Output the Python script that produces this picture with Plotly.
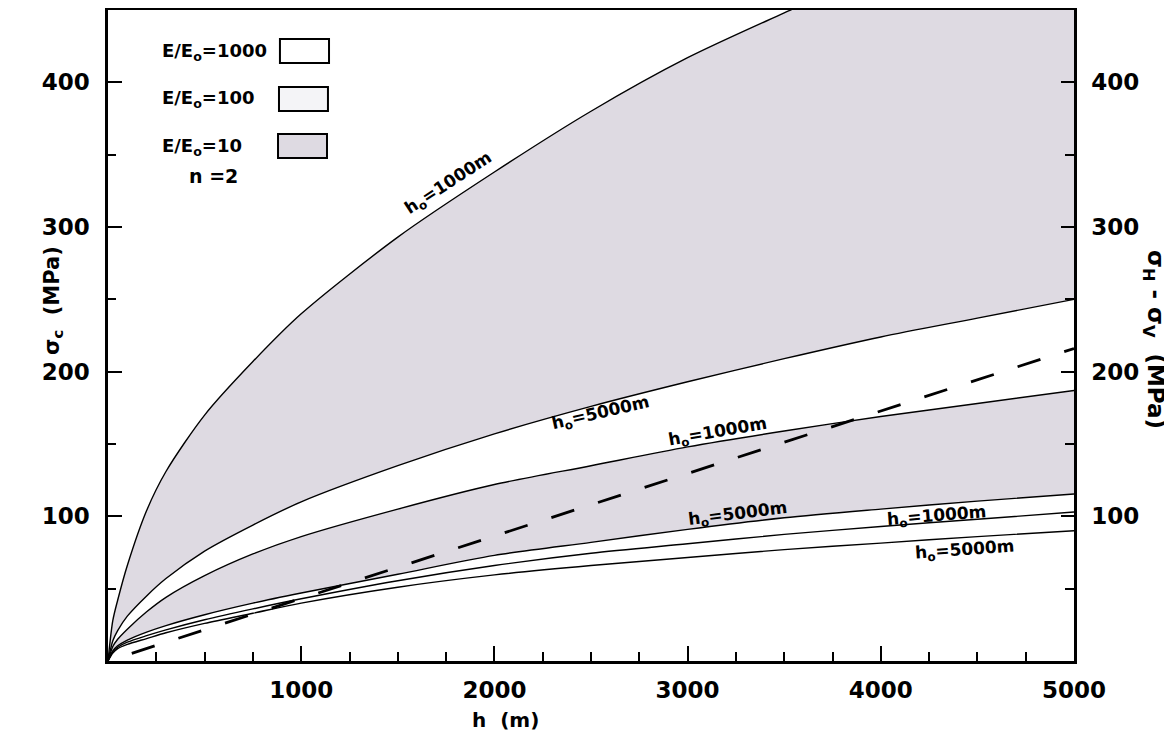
import plotly.graph_objects as go

# depth h (m)
h = [0, 25, 50, 100, 200, 300, 500, 750, 1000, 1500, 2000, 2500, 3000, 3500, 4000, 4500, 5000]

# sigma_c (MPa)
e10_h1000 = [0, 28, 42, 66, 104, 131, 170, 207, 240, 293, 338, 380, 417, 448, 478, 505, 530]
e10_h5000 = [0, 14, 21, 31, 45, 57, 76, 94, 110, 135, 157, 176, 193, 209, 224, 237, 250]
e100_h1000 = [0, 10, 15, 22, 34, 44, 59, 74, 86, 105, 122, 135, 148, 159, 169, 178, 187]
e100_h5000 = [0, 7, 10.5, 14.5, 20, 24.5, 32, 40, 47, 60, 73, 82, 91, 99, 105, 110.5, 115.4]
e1000_h1000 = [0, 6.5, 9.5, 13, 17.5, 21.5, 28.5, 36, 43, 55.5, 66, 74.5, 81, 87.5, 93, 98, 103]
e1000_h5000 = [0, 5.5, 8.5, 11.5, 15.5, 19.5, 26, 33, 40, 51, 59.5, 66, 71.5, 77, 81.5, 86, 90]

# sigma_H - sigma_V (dashed line)
h_dash = [0, 5000]
dsig = [0, 216]

x_ticks = [1000, 2000, 3000, 4000, 5000]
y_ticks = [100, 200, 300, 400]

GREY = "#dedae2"
FONT = "DejaVu Sans"
line = dict(color="black", width=1.4, shape="spline", smoothing=0.8)

fig = go.Figure()
fig.add_trace(go.Scatter(x=h, y=e10_h5000, mode="lines", line=line, showlegend=False))
fig.add_trace(go.Scatter(x=h, y=e10_h1000, mode="lines", line=line, fill="tonexty",
                         fillcolor=GREY, showlegend=False))
fig.add_trace(go.Scatter(x=h, y=e100_h5000, mode="lines", line=line, showlegend=False))
fig.add_trace(go.Scatter(x=h, y=e100_h1000, mode="lines", line=line, fill="tonexty",
                         fillcolor=GREY, showlegend=False))
fig.add_trace(go.Scatter(x=h, y=e1000_h1000, mode="lines", line=line, showlegend=False))
fig.add_trace(go.Scatter(x=h, y=e1000_h5000, mode="lines", line=line, showlegend=False))
fig.add_trace(go.Scatter(x=h_dash, y=dsig, mode="lines", yaxis="y2",
                         line=dict(color="black", width=2.8, dash="0px,25px,24px,0px"),
                         showlegend=False))

tickfont = dict(family=FONT, size=23, color="black", weight="bold")
axis_common = dict(showline=True, linecolor="black", linewidth=2.5, showgrid=False,
                   zeroline=False, ticks="inside", tickcolor="black", tickwidth=2,
                   tickfont=tickfont, automargin=False)

fig.update_layout(
    width=1172, height=741,
    margin=dict(l=100, r=106, t=2, b=88, autoexpand=False),
    paper_bgcolor="white", plot_bgcolor="white",
    xaxis=dict(range=[0, 5000], tickvals=x_ticks, ticklen=15, mirror=True,
               minor=dict(dtick=250, ticks="inside", ticklen=9, tickcolor="black", tickwidth=2),
               ticklabelstandoff=7, **axis_common),
    yaxis=dict(range=[0, 450], tickvals=y_ticks, ticklen=14, mirror=True,
               minor=dict(dtick=50, ticks="inside", ticklen=8, tickcolor="black", tickwidth=2),
               ticklabelstandoff=11, **axis_common),
    yaxis2=dict(range=[0, 450], tickvals=y_ticks, ticklen=13, overlaying="y", side="right",
                minor=dict(dtick=50, ticks="inside", ticklen=9, tickcolor="black", tickwidth=2),
                ticklabelstandoff=10, **axis_common),
)

def ann(text, x, y, angle=0, size=17, xref="x", yref="y", xanchor="center"):
    fig.add_annotation(text=text, x=x, y=y, xref=xref, yref=yref, showarrow=False,
                       textangle=angle, xanchor=xanchor, yanchor="middle",
                       font=dict(family=FONT, size=size, color="black", weight="bold"))

# curve labels
ann("h<sub>o</sub>=1000m", 1765, 330, -33)
ann("h<sub>o</sub>=5000m", 2552, 171, -13)
ann("h<sub>o</sub>=1000m", 3157, 158, -10)
ann("h<sub>o</sub>=5000m", 3261, 101.6, -7)
ann("h<sub>o</sub>=1000m", 4291, 100, -4.5)
ann("h<sub>o</sub>=5000m", 4436, 76.7, -4)

# legend-like key
ann("E/E<sub>o</sub>=1000", 0.0538, 0.9355, size=18, xref="paper", yref="paper", xanchor="left")
ann("E/E<sub>o</sub>=100", 0.0538, 0.8633, size=18, xref="paper", yref="paper", xanchor="left")
ann("E/E<sub>o</sub>=10", 0.0538, 0.7895, size=18, xref="paper", yref="paper", xanchor="left")
ann("n =2", 0.0818, 0.745, size=19, xref="paper", yref="paper", xanchor="left")
for (x0, x1, y0, y1, fc) in [(0.178, 0.2288, 0.9186, 0.9555, "white"),
                             (0.177, 0.2277, 0.8449, 0.8817, "#f4f4f7"),
                             (0.176, 0.2267, 0.7727, 0.8095, GREY)]:
    fig.add_shape(type="rect", xref="paper", yref="paper", x0=x0, x1=x1, y0=y0, y1=y1,
                  line=dict(color="black", width=2), fillcolor=fc)

# axis titles
ann("σ<sub>c</sub>  (MPa)", -0.057, 0.5545, -90, size=21, xref="paper", yref="paper")
ann("σ<sub>H</sub> - σ<sub>V</sub>  (MPa)", 1.0828, 0.493, 90, size=23, xref="paper", yref="paper")
ann("h  (m)", 0.411, -0.0906, 0, size=20, xref="paper", yref="paper")

fig.write_html("out.html")
